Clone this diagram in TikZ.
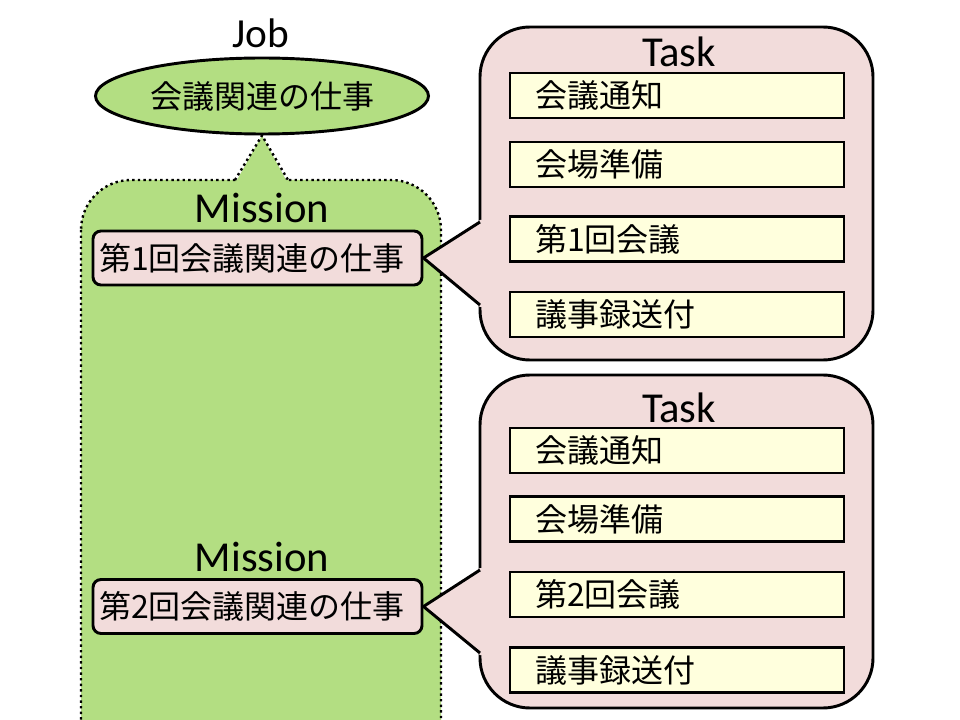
\documentclass[tikz,border=0pt]{standalone}
\usepackage{fontspec}
\setmainfont{Carlito}
\newfontfamily\jpfont{Noto Sans CJK JP}
\usepackage{tikz}
\usetikzlibrary{shapes.geometric,positioning}

\definecolor{jobgreen}{RGB}{179,222,130}
\definecolor{taskpink}{RGB}{242,220,219}
\definecolor{itemyellow}{RGB}{255,255,221}

\begin{document}
\begin{tikzpicture}[
x=0.75pt,y=-0.75pt,
jobellipse/.style={ellipse,draw=black,line width=2.2pt,fill=jobgreen,minimum width=249.75pt,minimum height=57pt,inner sep=0pt,font=\jpfont\fontsize{24}{28}\selectfont},
missionbg/.style={fill=jobgreen,draw=black,line width=1.8pt,dash pattern=on 1.8pt off 2.4pt,rounded corners=37.5pt},
dotline/.style={draw=black,line width=1.8pt,dash pattern=on 1.8pt off 2.4pt},
missionbox/.style={rectangle,rounded corners=6pt,draw=black,line width=2.2pt,fill=taskpink,minimum height=40.5pt,text width=237.75pt,inner xsep=4.5pt,inner ysep=2pt,align=left,font=\jpfont\fontsize{24}{30}\selectfont},
taskbg/.style={rectangle,rounded corners=37.5pt,draw=black,line width=2.2pt,fill=taskpink,minimum width=294.75pt,minimum height=249.75pt,inner sep=0pt},
taskitem/.style={rectangle,draw=black,line width=2.2pt,fill=itemyellow,minimum height=33.75pt,text width=213pt,inner xsep=18.75pt,inner ysep=2pt,align=left,font=\jpfont\fontsize{24}{28}\selectfont},
title/.style={font=\fontsize{32}{38}\selectfont,anchor=base},
pointer/.style={draw=black,line width=2.2pt,line join=miter}
]
\useasboundingbox (0,0) rectangle (960,720);
\clip (0,0) rectangle (960,720);

% mission area with its pointer up to the job
\draw[missionbg] (81,180) rectangle (441,800);
\node[jobellipse] (job) at (262,96) {会議関連の仕事\hspace{14pt}};
\node[title,font=\fontsize{31}{36}\selectfont] (joblabel) at (261,48) {Job};
\coordinate (gpl) at (235,180);
\coordinate (gpr) at (288,180);
\fill[jobgreen] (237,184) -- (237,180) -- (job.south) -- (286,180) -- (286,184) -- cycle;
\draw[dotline] (gpl) -- (job.south) -- (gpr);

\node[title] (mlabel1) at (262,223) {Mission};
\node[title] (mlabel2) at (262,571) {Mission};
\node[missionbox] (mission1) at (257.5,258) {第1回会議関連の仕事};
\node[missionbox] (mission2) at (257.5,606.5) {第2回会議関連の仕事};

% task callouts
\node[taskbg] (task1) at (676.5,193.5) {};
\node[taskbg] (task2) at (676.5,541.5) {};
\coordinate (p1a) at (480,222);
\coordinate (p1b) at (480,305);
\coordinate (p2a) at (480,570);
\coordinate (p2b) at (480,653);
\fill[taskpink] (484,220) -- (480,220) -- (mission1.east) -- (480,307) -- (484,307) -- cycle;
\fill[taskpink] (484,568) -- (480,568) -- (mission2.east) -- (480,655) -- (484,655) -- cycle;
\draw[pointer] (p1a) -- (mission1.east) -- (p1b);
\draw[pointer] (p2a) -- (mission2.east) -- (p2b);

\node[title] (tlabel1) at (679,67) {Task};
\node[title] (tlabel2) at (679,422) {Task};

\node[taskitem] (t1a) at (677,95.5) {会議通知};
\node[taskitem] (t1b) at (677,164.5) {会場準備};
\node[taskitem] (t1c) at (677,239) {第1回会議};
\node[taskitem] (t1d) at (677,314.5) {議事録送付};

\node[taskitem] (t2a) at (677,450.5) {会議通知};
\node[taskitem] (t2b) at (677,519) {会場準備};
\node[taskitem] (t2c) at (677,594.5) {第2回会議};
\node[taskitem] (t2d) at (677,670) {議事録送付};
\end{tikzpicture}
\end{document}
